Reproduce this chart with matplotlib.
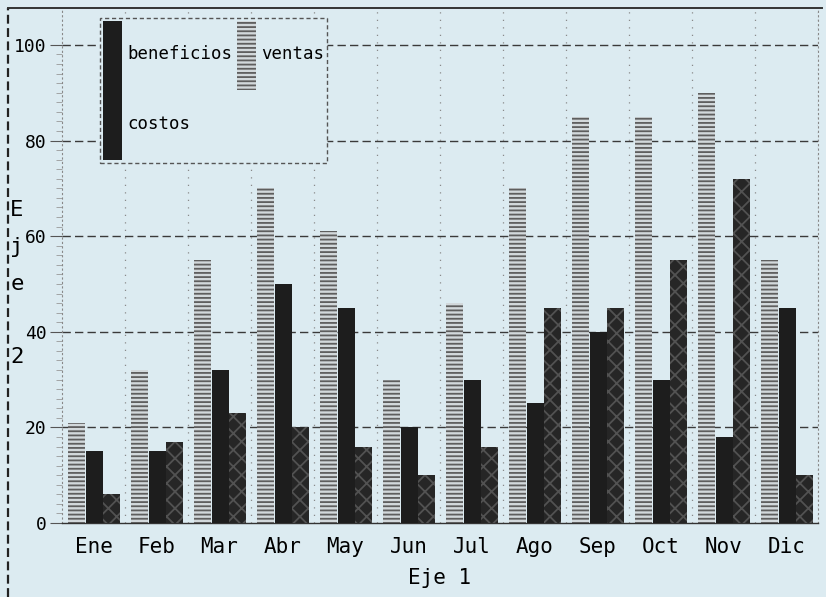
import numpy as np
import matplotlib
matplotlib.use("Agg")
import matplotlib.pyplot as plt
from matplotlib.lines import Line2D
from matplotlib.patches import Patch

meses = ["Ene", "Feb", "Mar", "Abr", "May", "Jun",
         "Jul", "Ago", "Sep", "Oct", "Nov", "Dic"]
ventas = [21, 32, 55, 70, 61, 30, 46, 70, 85, 85, 90, 55]
beneficios = [15, 15, 32, 50, 45, 20, 30, 25, 40, 30, 18, 45]
costos = [6, 17, 23, 20, 16, 10, 16, 45, 45, 55, 72, 10]

fondo = "#dcebf1"
plt.rcParams["font.family"] = ["DejaVu Sans Mono"]
plt.rcParams["hatch.linewidth"] = 1.3

fig = plt.figure(figsize=(8.26, 5.97), dpi=100, facecolor=fondo)
ax = fig.add_axes([62 / 826, 74 / 597, 756 / 826, 513 / 597], facecolor=fondo)

x = np.arange(len(meses))
w = 0.27
ax.bar(x + 0.10, ventas, w, align="edge", color="#d2d8db",
       edgecolor="#5e5e5e", linewidth=0, hatch="----", zorder=3)
ax.bar(x + 0.38, beneficios, w, align="edge", color="#1d1d1d",
       linewidth=0, zorder=3)
ax.bar(x + 0.65, costos, w, align="edge", color="#262626",
       edgecolor="#525252", linewidth=0, hatch="xx", zorder=3)

ax.set_xlim(0, 12)
ax.set_ylim(0, 107.3)

# gridlines: dashed horizontals, dotted month separators
for v in range(20, 101, 20):
    ax.axhline(v, color="#3a3a3a", lw=1.0, ls=(0, (6, 3)), zorder=1)
for i in range(1, 13):
    ax.axvline(i, color="#8a8a8a", lw=0.9, ls=(0, (1, 5)), zorder=1)

ax.set_yticks(range(0, 101, 20))
ax.set_yticks(range(0, 101, 2), minor=True)
ax.tick_params(axis="y", which="major", length=9, width=0.8, color="#555",
               labelsize=13, pad=2)
ax.tick_params(axis="y", which="minor", length=4, width=0.6, color="#999")
ax.set_xticks(x + 0.5)
ax.set_xticklabels(meses)
ax.tick_params(axis="x", length=0, labelsize=15, pad=10)

ax.spines["top"].set_visible(False)
ax.spines["bottom"].set_color("#333")
ax.spines["bottom"].set_linewidth(1.0)
for s in ["left", "right"]:
    ax.spines[s].set_color("#888")
    ax.spines[s].set_linestyle((0, (1, 3)))

ax.set_xlabel("Eje 1", fontsize=15, labelpad=8)
fig.text(17 / 826, 1 - 200 / 597, "E\nj\ne\n\n2", fontsize=16,
         ha="center", va="top", linespacing=2.05)

# outer frame of the page
fig.add_artist(Line2D([8 / 826, 8 / 826], [0, 1 - 8 / 597],
                      color="#222", lw=1.6, ls=(0, (4, 2))))
fig.add_artist(Line2D([8 / 826, 822 / 826], [1 - 8 / 597, 1 - 8 / 597],
                      color="#333", lw=1.4))

handles = [
    Patch(facecolor="#1d1d1d", linewidth=0, label="beneficios"),
    Patch(facecolor="#1d1d1d", linewidth=0, label="costos"),
    Patch(facecolor="#d2d8db", edgecolor="#5e5e5e", linewidth=0,
          hatch="----", label="ventas"),
]
leg = ax.legend(handles=handles, ncol=2, loc="upper left",
                bbox_to_anchor=(38 / 756, 505 / 513), borderaxespad=0,
                fontsize=12.5, handlelength=1.1, handleheight=5.8,
                labelspacing=0.0, handletextpad=0.3, columnspacing=0.3,
                borderpad=0.15, fancybox=False, framealpha=1)
leg.get_frame().set_facecolor(fondo)
leg.get_frame().set_edgecolor("#555")
leg.get_frame().set_linestyle((0, (3, 2)))
leg.set_zorder(5)

fig.savefig("out.png", dpi=100, facecolor=fondo)
